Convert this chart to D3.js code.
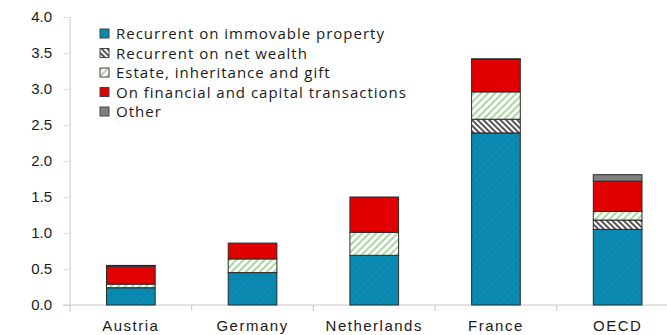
<!DOCTYPE html>
<html>
<head>
<meta charset="utf-8">
<script src="https://cdn.jsdelivr.net/npm/d3@7/dist/d3.min.js"></script>
<style>
  html, body { margin: 0; padding: 0; background: #fff; }
  svg { display: block; font-family: "Open Sans", "Noto Sans", sans-serif; }
</style>
</head>
<body>
<svg id="chart" width="667" height="335"></svg>
<script>
// Property tax revenue by type, % of GDP
const countries = ["Austria", "Germany", "Netherlands", "France", "OECD"];
const seriesNames = [
  "Recurrent on immovable property",
  "Recurrent on net wealth",
  "Estate, inheritance and gift",
  "On financial and capital transactions",
  "Other"
];
const immovable   = [0.24, 0.45, 0.69, 2.39, 1.05];
const netWealth   = [0.00, 0.00, 0.00, 0.19, 0.13];
const estate      = [0.05, 0.19, 0.32, 0.38, 0.12];
const financial   = [0.25, 0.22, 0.49, 0.45, 0.42];
const other       = [0.01, 0.00, 0.00, 0.01, 0.09];
const yTicks = [0, 0.5, 1, 1.5, 2, 2.5, 3, 3.5, 4];

const seriesValues = [immovable, netWealth, estate, financial, other];
const rows = countries.map((c, i) => {
  const r = { country: c };
  seriesNames.forEach((s, k) => r[s] = seriesValues[k][i]);
  return r;
});

const svg = d3.select("#chart");
const margin = { left: 70, top: 17, bottom: 30 };
const plotW = 608.5;
const height = 335;

const x = d3.scaleBand().domain(countries).range([margin.left, margin.left + plotW]).paddingInner(0.6).paddingOuter(0.3);
const xb = d3.scaleBand().domain(countries).range([margin.left, margin.left + plotW]);
const y = d3.scaleLinear().domain([0, 4]).range([height - margin.bottom, margin.top]);

// fill patterns
const defs = svg.append("defs");
function stripes(id, bg, fg, w, angle, size) {
  const p = defs.append("pattern").attr("id", id).attr("patternUnits", "userSpaceOnUse")
    .attr("width", size).attr("height", size).attr("patternTransform", `rotate(${angle})`);
  p.append("rect").attr("width", size).attr("height", size).attr("fill", bg);
  p.append("rect").attr("width", w).attr("height", size).attr("fill", fg);
}
stripes("pBlue", "#0b8bb3", "#0a85ac", 2, 45, 5);
stripes("pNet", "#ffffff", "#555555", 2, -45, 4);
stripes("pEstate", "#ffffff", "#a9d89f", 2, 45, 5);

const fills = ["url(#pBlue)", "url(#pNet)", "url(#pEstate)", "#e00000", "#808080"];

// axes
const axisColor = "#c8c8c8";
const yAxis = svg.append("g").attr("transform", `translate(${margin.left},0)`)
  .call(d3.axisLeft(y).tickValues(yTicks).tickFormat(d3.format(".1f")).tickSize(7).tickPadding(11));
yAxis.select(".domain").attr("stroke", axisColor).attr("d", `M0,${y(0) + 7}V${y(4)}`);
yAxis.selectAll(".tick line").attr("stroke", "#e0e0e0");
yAxis.selectAll(".tick text").attr("fill", "#1a1a1a").attr("font-size", "15px");

const xAxis = svg.append("g").attr("transform", `translate(0,${y(0)})`)
  .call(d3.axisBottom(xb).tickSize(0).tickPadding(15));
xAxis.select(".domain").attr("stroke", axisColor).attr("d", `M${margin.left - 7},0H667`);
xAxis.selectAll(".tick text").attr("fill", "#1a1a1a").attr("font-size", "15px")
  .attr("letter-spacing", "1.5px");
xAxis.selectAll(".sep").data(countries.slice(1)).enter().append("line")
  .attr("x1", d => xb(d)).attr("x2", d => xb(d)).attr("y1", 0).attr("y2", 6)
  .attr("stroke", axisColor);

// stacked bars
const stack = d3.stack().keys(seriesNames)(rows);
svg.append("g").selectAll("g").data(stack).enter().append("g")
  .attr("fill", (d, i) => fills[i])
  .selectAll("rect").data(d => d.filter(s => s[1] - s[0] > 0)).enter().append("rect")
  .attr("x", d => x(d.data.country))
  .attr("width", x.bandwidth())
  .attr("y", d => y(d[1]))
  .attr("height", d => y(d[0]) - y(d[1]))
  .attr("stroke", "#2a2a2a").attr("stroke-width", 1);

// legend
const legend = svg.append("g").attr("transform", "translate(100,29)");
seriesNames.forEach((s, i) => {
  const g = legend.append("g").attr("transform", `translate(0,${i * 19.5})`);
  g.append("rect").attr("x", 0).attr("y", 0).attr("width", 9).attr("height", 9)
    .attr("fill", fills[i]).attr("stroke", "#444");
  g.append("text").attr("x", 16).attr("y", 5).attr("dy", "0.35em")
    .attr("font-size", "15px").attr("letter-spacing", "1px").attr("fill", "#1a1a1a").text(s);
});
</script>
</body>
</html>
